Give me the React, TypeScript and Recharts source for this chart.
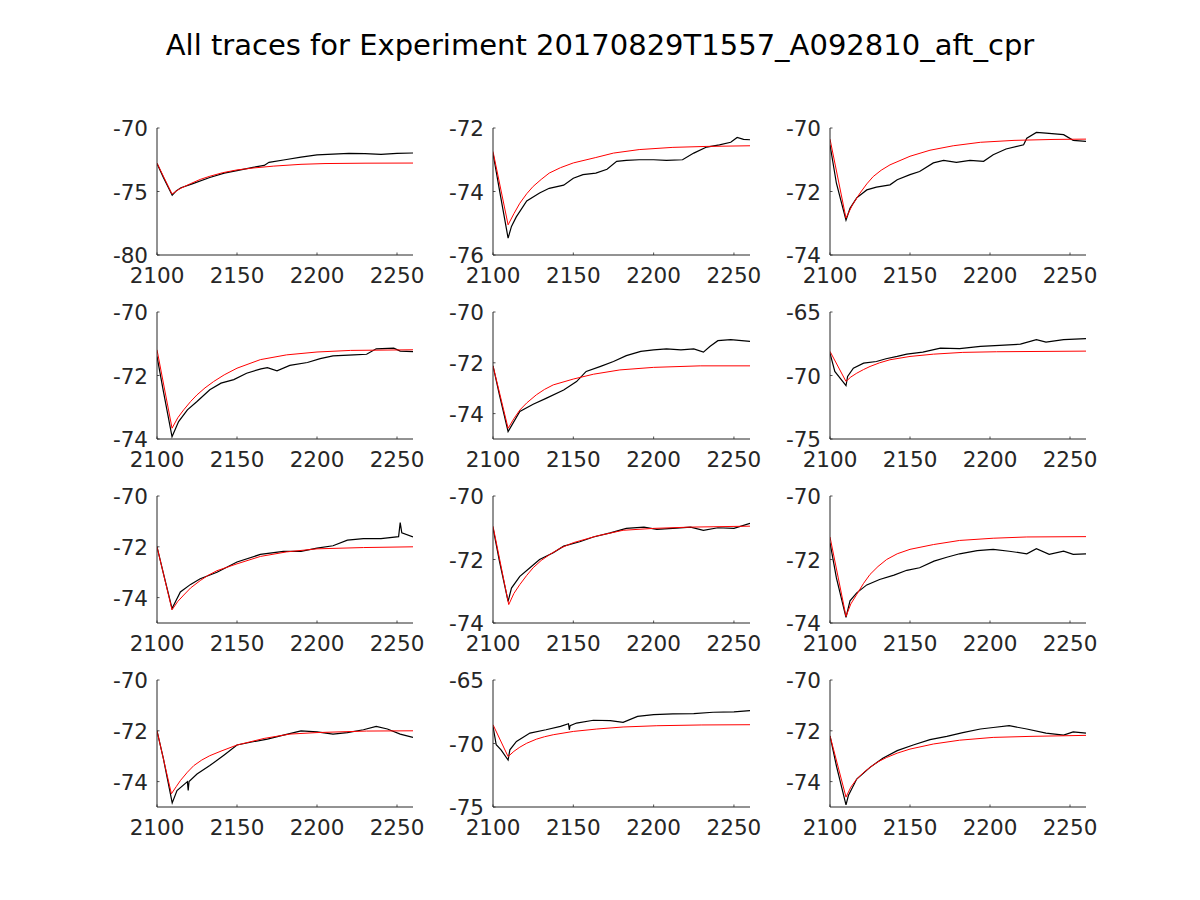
import React from "react";
import { LineChart, Line, XAxis, YAxis } from "recharts";

type Pt = [number, number];

const xTicks = [2100, 2150, 2200, 2250];
const xDomain: [number, number] = [2100, 2260];

const p1Black: Pt[] = [[2100,-72.8],[2104,-73.9],[2109.5,-75.3],[2112,-74.95],[2115,-74.7],[2122,-74.4],[2133,-73.9],[2142,-73.55],[2150,-73.35],[2160,-73.1],[2167,-72.95],[2170,-72.7],[2180,-72.5],[2190,-72.3],[2200,-72.12],[2210,-72.05],[2220,-72.0],[2230,-72.02],[2240,-72.07],[2250,-72.0],[2260,-71.97]];
const p1Red: Pt[] = [[2100,-72.76],[2109.4,-75.2],[2114,-74.8],[2121,-74.38],[2127,-74.05],[2133,-73.8],[2141,-73.52],[2150,-73.3],[2160,-73.15],[2173,-73.0],[2190,-72.86],[2205,-72.8],[2230,-72.77],[2260,-72.76]];
const p2Black: Pt[] = [[2100,-72.8],[2104,-73.95],[2109.4,-75.47],[2111.5,-75.1],[2114.5,-74.8],[2121,-74.3],[2129,-74.05],[2135,-73.9],[2144,-73.8],[2150,-73.58],[2156,-73.47],[2164,-73.42],[2171,-73.3],[2177,-73.05],[2183,-73.02],[2191,-73.0],[2200,-73.0],[2208,-73.02],[2218,-73.0],[2225,-72.79],[2233,-72.6],[2241,-72.53],[2248,-72.45],[2252,-72.3],[2256,-72.36],[2260,-72.37]];
const p2Red: Pt[] = [[2100,-72.74],[2109.4,-75.05],[2113,-74.7],[2116.7,-74.37],[2121,-74.07],[2125,-73.84],[2130,-73.62],[2135,-73.42],[2142,-73.25],[2150,-73.1],[2164,-72.93],[2175,-72.79],[2191,-72.68],[2212,-72.61],[2233,-72.58],[2260,-72.56]];
const p3Black: Pt[] = [[2100,-70.53],[2104,-71.74],[2110,-72.9],[2112.5,-72.53],[2116.7,-72.2],[2123,-71.95],[2129,-71.86],[2137.5,-71.79],[2142,-71.63],[2150,-71.47],[2156,-71.37],[2164.6,-71.1],[2171,-71.02],[2179,-71.08],[2187.5,-71.02],[2196,-71.05],[2202,-70.84],[2210,-70.66],[2221,-70.53],[2223,-70.32],[2229,-70.14],[2235,-70.16],[2246,-70.21],[2252,-70.39],[2260,-70.42]];
const p3Red: Pt[] = [[2100,-70.35],[2110,-72.84],[2114,-72.42],[2118.75,-72.05],[2123,-71.76],[2127,-71.53],[2132,-71.33],[2137.5,-71.16],[2150,-70.89],[2162.5,-70.7],[2177,-70.56],[2194,-70.45],[2215,-70.39],[2240,-70.36],[2260,-70.35]];
const p4Black: Pt[] = [[2100,-71.4],[2104,-72.5],[2109.4,-73.93],[2113.5,-73.45],[2119,-73.08],[2125,-72.82],[2133,-72.45],[2140,-72.24],[2148,-72.13],[2156,-71.93],[2165,-71.79],[2169,-71.75],[2175,-71.85],[2183,-71.68],[2194,-71.59],[2202,-71.47],[2210,-71.38],[2223,-71.35],[2231,-71.33],[2237,-71.16],[2248,-71.14],[2252,-71.23],[2260,-71.25]];
const p4Red: Pt[] = [[2100,-71.19],[2109.4,-73.66],[2113,-73.33],[2116.7,-73.08],[2121,-72.82],[2125,-72.61],[2130,-72.39],[2135.4,-72.19],[2142,-71.98],[2150,-71.77],[2164.6,-71.5],[2181,-71.35],[2200,-71.26],[2221,-71.21],[2260,-71.19]];
const p5Black: Pt[] = [[2100,-72.12],[2104,-73.26],[2109.4,-74.71],[2116.7,-73.92],[2125,-73.63],[2133,-73.4],[2144,-73.07],[2152,-72.74],[2158,-72.34],[2167,-72.14],[2175,-71.95],[2183,-71.72],[2192,-71.55],[2200,-71.49],[2208,-71.45],[2217,-71.49],[2225,-71.45],[2231,-71.58],[2235,-71.36],[2240,-71.13],[2248,-71.09],[2260,-71.16]];
const p5Red: Pt[] = [[2100,-72.12],[2109.4,-74.58],[2113,-74.2],[2116.7,-73.86],[2121,-73.58],[2127,-73.26],[2132,-73.05],[2137.5,-72.87],[2150,-72.64],[2162.5,-72.45],[2179,-72.28],[2200,-72.18],[2229,-72.12],[2260,-72.12]];
const p6Black: Pt[] = [[2100,-68.24],[2103,-69.68],[2110,-70.79],[2111,-70.08],[2114.6,-69.42],[2121,-69.03],[2129,-68.9],[2135,-68.68],[2142,-68.5],[2148,-68.32],[2158,-68.16],[2169,-67.84],[2181,-67.89],[2194,-67.71],[2206,-67.63],[2219,-67.53],[2229,-67.18],[2235,-67.37],[2246,-67.18],[2260,-67.1]];
const p6Red: Pt[] = [[2100,-68.1],[2110,-70.47],[2113,-70.12],[2116.7,-69.82],[2121,-69.53],[2125,-69.29],[2131,-69.0],[2137.5,-68.76],[2150,-68.5],[2164.6,-68.32],[2183,-68.18],[2204,-68.13],[2260,-68.08]];
const p7Black: Pt[] = [[2100,-72.0],[2104,-73.05],[2109.4,-74.43],[2114.6,-73.78],[2121,-73.48],[2127,-73.26],[2137.5,-73.0],[2150,-72.6],[2164.6,-72.3],[2179,-72.18],[2190,-72.18],[2200,-72.05],[2210,-71.96],[2219,-71.74],[2229,-71.68],[2240,-71.68],[2251,-71.6],[2252,-71.05],[2253,-71.45],[2260,-71.61]];
const p7Red: Pt[] = [[2100,-72.0],[2109.4,-74.48],[2113,-74.15],[2116.7,-73.9],[2121,-73.62],[2127,-73.33],[2132,-73.12],[2137.5,-72.94],[2150,-72.67],[2164.6,-72.38],[2181,-72.2],[2200,-72.08],[2229,-72.03],[2260,-72.0]];
const p8Black: Pt[] = [[2100,-71.0],[2104,-72.05],[2109.4,-73.32],[2111.5,-72.9],[2116.7,-72.53],[2123,-72.26],[2129,-72.0],[2137.5,-71.79],[2144,-71.58],[2154,-71.44],[2162.5,-71.29],[2173,-71.16],[2183,-71.02],[2194,-70.98],[2202,-71.05],[2212,-71.02],[2223,-70.98],[2231,-71.08],[2240,-71.0],[2250,-71.02],[2260,-70.86]];
const p8Red: Pt[] = [[2100,-70.95],[2109.8,-73.42],[2113,-73.07],[2116.7,-72.79],[2121,-72.5],[2125,-72.26],[2130,-72.03],[2135.4,-71.84],[2142,-71.64],[2150,-71.47],[2164.6,-71.26],[2181,-71.08],[2200,-71.02],[2223,-70.98],[2260,-70.95]];
const p9Black: Pt[] = [[2100,-71.47],[2104,-72.58],[2110,-73.82],[2112.5,-73.3],[2116.7,-73.05],[2123,-72.8],[2131,-72.63],[2140,-72.49],[2148,-72.34],[2156,-72.26],[2165,-72.05],[2173,-71.93],[2181,-71.82],[2192,-71.72],[2202,-71.68],[2212,-71.74],[2223,-71.82],[2229,-71.66],[2237,-71.84],[2246,-71.74],[2252,-71.84],[2260,-71.82]];
const p9Red: Pt[] = [[2100,-71.29],[2110,-73.79],[2113,-73.4],[2116.7,-73.1],[2121,-72.75],[2125,-72.47],[2130,-72.22],[2135.4,-72.0],[2142,-71.82],[2150,-71.68],[2164.6,-71.53],[2181,-71.4],[2202,-71.33],[2223,-71.29],[2260,-71.28]];
const p10Black: Pt[] = [[2100,-72.0],[2104,-73.1],[2109.5,-74.84],[2112.5,-74.35],[2119,-74.0],[2119.5,-74.35],[2120,-74.0],[2125,-73.7],[2133,-73.37],[2142,-72.95],[2150,-72.56],[2160,-72.43],[2169,-72.33],[2179,-72.17],[2190,-72.0],[2200,-72.04],[2210,-72.13],[2219,-72.07],[2229,-71.96],[2237,-71.83],[2244,-71.93],[2252,-72.13],[2260,-72.26]];
const p10Red: Pt[] = [[2100,-72.0],[2109,-74.48],[2112,-74.2],[2114.6,-73.96],[2119,-73.63],[2123,-73.37],[2128,-73.15],[2133,-72.98],[2140,-72.8],[2150,-72.56],[2167,-72.3],[2183,-72.13],[2200,-72.07],[2231,-72.01],[2260,-72.0]];
const p11Black: Pt[] = [[2100,-68.65],[2102,-70.1],[2105,-70.5],[2109.4,-71.3],[2110.5,-70.5],[2114.6,-69.84],[2123,-69.18],[2133,-68.92],[2142,-68.65],[2147,-68.44],[2147.5,-68.92],[2148,-68.6],[2152,-68.39],[2162.5,-68.17],[2173,-68.2],[2181,-68.33],[2190,-67.86],[2200,-67.72],[2212,-67.67],[2225,-67.65],[2237,-67.54],[2250,-67.51],[2260,-67.41]];
const p11Red: Pt[] = [[2100,-68.52],[2109.4,-71.03],[2113,-70.62],[2116.7,-70.29],[2121,-69.98],[2127,-69.66],[2132,-69.47],[2137.5,-69.31],[2150,-69.05],[2164.6,-68.86],[2181,-68.7],[2202,-68.6],[2230,-68.54],[2260,-68.52]];
const p12Black: Pt[] = [[2100,-72.2],[2104,-73.38],[2110,-74.92],[2111.5,-74.55],[2116.7,-73.9],[2125,-73.44],[2133,-73.08],[2142,-72.78],[2152,-72.56],[2162.5,-72.35],[2173,-72.22],[2183,-72.07],[2194,-71.93],[2202,-71.87],[2212,-71.8],[2223,-71.93],[2235,-72.09],[2246,-72.17],[2252,-72.04],[2260,-72.09]];
const p12Red: Pt[] = [[2100,-72.2],[2110,-74.61],[2113,-74.22],[2116.7,-73.9],[2121,-73.64],[2125,-73.44],[2130,-73.22],[2135.4,-73.05],[2142,-72.88],[2150,-72.72],[2164.6,-72.52],[2181,-72.37],[2202,-72.26],[2225,-72.22],[2260,-72.18]];

const yDomains: [number, number][] = [
  [-80, -70], [-76, -72], [-74, -70],
  [-74, -70], [-75, -70], [-75, -65],
  [-75, -70], [-74, -70], [-74, -70],
  [-75, -70], [-75, -65], [-75, -70],
];
const yTickSets: number[][] = [
  [-80, -75, -70], [-76, -74, -72], [-74, -72, -70],
  [-74, -72, -70], [-74, -72, -70], [-75, -70, -65],
  [-74, -72, -70], [-74, -72, -70], [-74, -72, -70],
  [-74, -72, -70], [-75, -70, -65], [-74, -72, -70],
];
const blackSeries = [p1Black, p2Black, p3Black, p4Black, p5Black, p6Black, p7Black, p8Black, p9Black, p10Black, p11Black, p12Black];
const redSeries = [p1Red, p2Red, p3Red, p4Red, p5Red, p6Red, p7Red, p8Red, p9Red, p10Red, p11Red, p12Red];

const titleText = "All traces for Experiment 20170829T1557_A092810_aft_cpr";

const FONT = "'DejaVu Sans', sans-serif";
const AX = "#262626";
const colLefts = [157, 493, 830];
const colWidths = [256, 257, 256];
const rowTops = [128, 312, 496, 680];
const plotH = 127;
const ML = 64;
const MR = 14;
const MT = 16;
const XH = 42;
const TICK_FS = 21.5;

const toPts = (a: Pt[]) => a.map(([x, y]) => ({ x, y }));

const XTick = (props: any) => {
  const { x, y, payload } = props;
  return (
    <g>
      <line x1={x} y1={y} x2={x} y2={y - 2.5} stroke={AX} strokeWidth={0.8} />
      <text x={x} y={y + 28} textAnchor="middle" fontSize={TICK_FS} fill={AX} fontFamily={FONT}>
        {payload.value}
      </text>
    </g>
  );
};

const YTick = (props: any) => {
  const { x, y, payload } = props;
  return (
    <g>
      <line x1={x} y1={y} x2={x + 2.5} y2={y} stroke={AX} strokeWidth={0.8} />
      <text x={x - 9} y={y + 8} textAnchor="end" fontSize={TICK_FS} fill={AX} fontFamily={FONT}>
        {payload.value}
      </text>
    </g>
  );
};

const Panel = ({ i }: { i: number }) => {
  const col = i % 3;
  const row = Math.floor(i / 3);
  const w = ML + colWidths[col] + MR;
  const h = MT + plotH + XH;
  return (
    <div style={{ position: "absolute", left: colLefts[col] - ML, top: rowTops[row] - MT }}>
      <LineChart width={w} height={h} margin={{ top: MT, right: MR, bottom: 0, left: 0 }}>
        <XAxis
          dataKey="x"
          type="number"
          domain={xDomain}
          ticks={xTicks}
          allowDataOverflow
          height={XH}
          tickSize={0}
          tickMargin={0}
          tickLine={false}
          axisLine={{ stroke: AX, strokeWidth: 1 }}
          tick={<XTick />}
          interval={0}
        />
        <YAxis
          type="number"
          domain={yDomains[i]}
          ticks={yTickSets[i]}
          allowDataOverflow
          width={ML}
          tickSize={0}
          tickMargin={0}
          tickLine={false}
          axisLine={{ stroke: AX, strokeWidth: 1 }}
          tick={<YTick />}
          interval={0}
        />
        <Line
          data={toPts(blackSeries[i])}
          dataKey="y"
          type="linear"
          stroke="#000000"
          strokeWidth={1.2}
          dot={false}
          isAnimationActive={false}
        />
        <Line
          data={toPts(redSeries[i])}
          dataKey="y"
          type="linear"
          stroke="#ff0000"
          strokeWidth={1}
          dot={false}
          isAnimationActive={false}
        />
      </LineChart>
    </div>
  );
};

export default function App() {
  return (
    <div style={{ position: "absolute", left: 0, top: 0, width: 1200, height: 900, background: "#ffffff", fontFamily: FONT }}>
      <div
        style={{
          position: "absolute",
          left: 0,
          top: 28,
          width: 1200,
          textAlign: "center",
          fontSize: 29,
          color: "#000",
          lineHeight: "34px",
        }}
      >
        {titleText}
      </div>
      {Array.from({ length: 12 }, (_, i) => (
        <Panel key={i} i={i} />
      ))}
    </div>
  );
}
